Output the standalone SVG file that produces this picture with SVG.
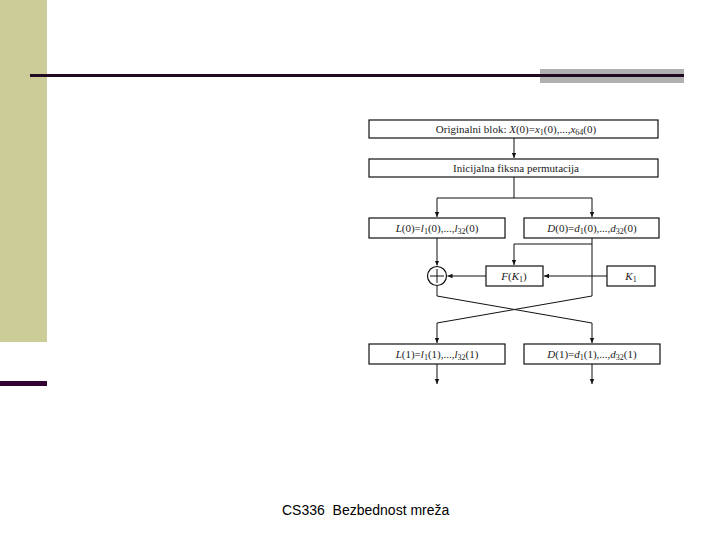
<svg xmlns="http://www.w3.org/2000/svg" width="720" height="540" viewBox="0 0 720 540">
<style>
.box{fill:#fff;stroke:#111;stroke-width:1.2}
.t{font-family:"Liberation Serif","Times New Roman",serif;font-size:11px;fill:#222;text-anchor:middle}
.i{font-style:italic}
.sub{font-size:8px}
.c{fill:none;stroke:#111;stroke-width:1}
.ft{font-family:"Liberation Sans",Arial,sans-serif;font-size:14px;fill:#000;white-space:pre}
</style>
<defs>
<marker id="ah" markerWidth="6" markerHeight="6" refX="5" refY="3" orient="auto" markerUnits="userSpaceOnUse">
<path d="M0,0.8 L5,3 L0,5.2 Z" fill="#111"/>
</marker>
</defs>
<rect width="720" height="540" fill="#fff"/>
<g id="decor">
<rect x="0" y="0" width="47" height="342" fill="#CCCC99"/>
<rect x="540" y="69" width="144" height="14" fill="#B0B0B0"/>
<rect x="30" y="74" width="654" height="3" fill="#220A22"/>
<rect x="0" y="381" width="47" height="5" fill="#330033"/>
</g>
<g id="connectors">
<path class="c" d="M514,138 V158" marker-end="url(#ah)"/>
<path class="c" d="M514,177 V198 M437,198 H592"/>
<path class="c" d="M437,198 V217" marker-end="url(#ah)"/>
<path class="c" d="M592,198 V217" marker-end="url(#ah)"/>
<path class="c" d="M437,238 V265.5" marker-end="url(#ah)"/>
<path class="c" d="M592,238 V296 L437,323 V343" marker-end="url(#ah)"/>
<path class="c" d="M592,244 H514 V265" marker-end="url(#ah)"/>
<path class="c" d="M607,276 H544" marker-end="url(#ah)"/>
<path class="c" d="M486,276 H447.5" marker-end="url(#ah)"/>
<path class="c" d="M437,285.5 V296 L592,323 V343" marker-end="url(#ah)"/>
<path class="c" d="M437,364 V384" marker-end="url(#ah)"/>
<path class="c" d="M592,364 V384" marker-end="url(#ah)"/>
</g>
<g id="original">
<rect class="box" x="369" y="120" width="289" height="18"/>
<text class="t" x="516" y="133">Originalni blok: <tspan class="i">X</tspan>(0)=<tspan class="i">x</tspan><tspan class="sub" dy="2">1</tspan><tspan dy="-2">(0),...,</tspan><tspan class="i">x</tspan><tspan class="sub" dy="2">64</tspan><tspan dy="-2">(0)</tspan></text>
</g>
<g id="permutacija">
<rect class="box" x="369" y="159" width="289" height="18"/>
<text class="t" x="516" y="172">Inicijalna fiksna permutacija</text>
</g>
<g id="L0">
<rect class="box" x="369" y="218" width="136" height="20"/>
<text class="t" x="437" y="232"><tspan class="i">L</tspan>(0)=<tspan class="i">l</tspan><tspan class="sub" dy="2">1</tspan><tspan dy="-2">(0),...,</tspan><tspan class="i">l</tspan><tspan class="sub" dy="2">32</tspan><tspan dy="-2">(0)</tspan></text>
</g>
<g id="D0">
<rect class="box" x="524" y="218" width="135" height="20"/>
<text class="t" x="592" y="232"><tspan class="i">D</tspan>(0)=<tspan class="i">d</tspan><tspan class="sub" dy="2">1</tspan><tspan dy="-2">(0),...,</tspan><tspan class="i">d</tspan><tspan class="sub" dy="2">32</tspan><tspan dy="-2">(0)</tspan></text>
</g>
<g id="xor">
<circle cx="437" cy="276" r="9.5" fill="#fff" stroke="#111" stroke-width="1.2"/>
<path d="M430,276 H444 M437,269 V283" stroke="#111" stroke-width="1" fill="none"/>
</g>
<g id="F">
<rect class="box" x="486" y="266" width="57" height="20"/>
<text class="t" x="514" y="280"><tspan class="i">F</tspan>(<tspan class="i">K</tspan><tspan class="sub" dy="2">1</tspan><tspan dy="-2">)</tspan></text>
</g>
<g id="K1">
<rect class="box" x="607" y="266" width="48" height="20"/>
<text class="t" x="631" y="280"><tspan class="i">K</tspan><tspan class="sub" dy="2">1</tspan></text>
</g>
<g id="L1">
<rect class="box" x="369" y="344" width="136" height="20"/>
<text class="t" x="437" y="358"><tspan class="i">L</tspan>(1)=<tspan class="i">l</tspan><tspan class="sub" dy="2">1</tspan><tspan dy="-2">(1),...,</tspan><tspan class="i">l</tspan><tspan class="sub" dy="2">32</tspan><tspan dy="-2">(1)</tspan></text>
</g>
<g id="D1">
<rect class="box" x="524" y="344" width="136" height="20"/>
<text class="t" x="592" y="358"><tspan class="i">D</tspan>(1)=<tspan class="i">d</tspan><tspan class="sub" dy="2">1</tspan><tspan dy="-2">(1),...,</tspan><tspan class="i">d</tspan><tspan class="sub" dy="2">32</tspan><tspan dy="-2">(1)</tspan></text>
</g>
<g id="footer">
<text class="ft" x="282" y="515" xml:space="preserve">CS336  Bezbednost mreža</text>
</g>
</svg>
